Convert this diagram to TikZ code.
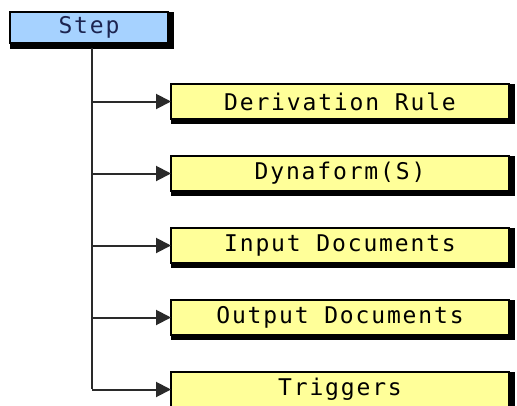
\documentclass[tikz,border=0pt]{standalone}
\usepackage{fontspec}
\setmonofont{DejaVu Sans Mono}
\newfontfamily\boxfont[LetterSpace=8]{DejaVu Sans Mono}
\usetikzlibrary{arrows.meta}

\definecolor{stepblue}{HTML}{A6D2FF}
\definecolor{itemyellow}{HTML}{FFFF99}
\definecolor{stepink}{HTML}{1C2450}
\definecolor{wire}{HTML}{2A2A2A}

\tikzset{
  panel/.style={draw=black, line width=1.2pt, inner sep=0pt, outer sep=0pt,
    font=\boxfont\fontsize{23}{24}\selectfont},
  rootbox/.style={panel, fill=stepblue, text=stepink,
    minimum width=158pt, minimum height=31pt},
  itembox/.style={panel, fill=itemyellow, text=black,
    minimum width=338pt, minimum height=35pt},
  shade/.style={fill=black},
  link/.style={draw=wire, line width=2pt,
    -{Triangle[length=15pt,width=15pt]}},
}

\begin{document}
\begin{tikzpicture}[x=1pt, y=-1pt]
  \useasboundingbox (0,0) rectangle (517,405);
  \fill[white] (0,0) rectangle (517,405);

  % root
  \node[rootbox] (step) at (89,27.5) {\raisebox{-1pt}{Step}};
  \fill[shade] (step.south west) rectangle ([shift={(6,6)}]step.south east);
  \fill[shade] (step.north east) rectangle ([shift={(6,0)}]step.south east);

  % children
  \foreach \name/\y/\txt in {rule/101.5/Derivation Rule,
                             form/173.5/Dynaform(S),
                             indoc/245.5/Input Documents,
                             outdoc/317.5/Output Documents,
                             trig/389.5/Triggers} {
    \node[itembox] (\name) at (340,\y) {\raisebox{-1.5pt}{\txt}};
    \fill[shade] (\name.south west) rectangle ([shift={(6,5)}]\name.south east);
    \fill[shade] (\name.north east) rectangle ([shift={(6,0)}]\name.south east);
  }

  % trunk and branches
  \coordinate (trunk) at (92,48);
  \coordinate (corner) at (trunk |- trig.west);
  \draw[draw=wire, line width=2pt] (trunk) -- ([yshift=1pt]corner);
  \foreach \name in {rule,form,indoc,outdoc,trig} {
    \draw[link] (trunk |- \name.west) -- (\name.west);
  }
\end{tikzpicture}
\end{document}
